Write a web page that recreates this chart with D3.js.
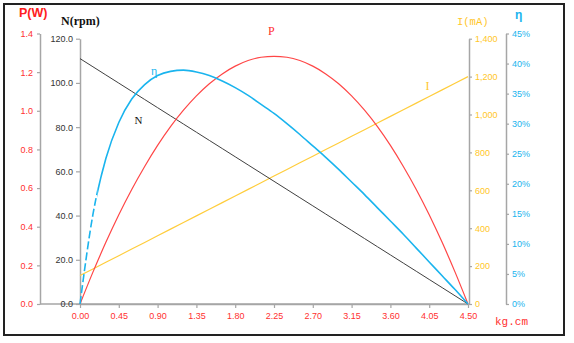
<!DOCTYPE html>
<html>
<head>
<meta charset="utf-8">
<script src="https://cdn.jsdelivr.net/npm/d3@7"></script>
<style>
  html, body { margin: 0; padding: 0; background: #fff; }
  svg { display: block; }
  .tick text { font-family: "Liberation Sans", Arial, sans-serif; font-size: 9px; }
</style>
</head>
<body>
<svg id="chart" width="574" height="343"></svg>
<script>
// ---- data ----
const torque = [0, 0.15, 0.3, 0.45, 0.6, 0.75, 0.9, 1.05, 1.2, 1.35, 1.5, 1.65, 1.8, 1.95, 2.1, 2.25,
  2.4, 2.55, 2.7, 2.85, 3.0, 3.15, 3.3, 3.45, 3.6, 3.75, 3.9, 4.05, 4.2, 4.35, 4.5];
const speed = [111, 107.3, 103.6, 99.9, 96.2, 92.5, 88.8, 85.1, 81.4, 77.7, 74, 70.3, 66.6, 62.9, 59.2, 55.5,
  51.8, 48.1, 44.4, 40.7, 37, 33.3, 29.6, 25.9, 22.2, 18.5, 14.8, 11.1, 7.4, 3.7, 0];
const current = [150, 185, 220, 255, 290, 325, 360, 395, 430, 465, 500, 535, 570, 605, 640, 675,
  710, 745, 780, 815, 850, 885, 920, 955, 990, 1025, 1060, 1095, 1130, 1165, 1200];
const power = [0, 0.165, 0.319, 0.462, 0.593, 0.712, 0.821, 0.918, 1.003, 1.077, 1.140, 1.191, 1.231, 1.260, 1.277, 1.282,
  1.277, 1.260, 1.231, 1.191, 1.140, 1.077, 1.003, 0.918, 0.821, 0.712, 0.593, 0.462, 0.319, 0.165, 0];
const efficiency = [0, 14.9, 24.2, 30.2, 34.1, 36.5, 38.0, 38.7, 38.9, 38.6, 38.0, 37.1, 36.0, 34.7, 33.2, 31.7,
  30.0, 28.2, 26.3, 24.4, 22.4, 20.3, 18.2, 16.0, 13.8, 11.6, 9.3, 7.0, 4.7, 2.4, 0];

const xTicks = [0, 0.45, 0.9, 1.35, 1.8, 2.25, 2.7, 3.15, 3.6, 4.05, 4.5];
const pTicks = [0, 0.2, 0.4, 0.6, 0.8, 1.0, 1.2, 1.4];
const nTicks = [0, 20, 40, 60, 80, 100, 120];
const iTicks = [0, 200, 400, 600, 800, 1000, 1200, 1400];
const effTicks = [0, 5, 10, 15, 20, 25, 30, 35, 40, 45];

// ---- colours ----
const RED = "#ff4646", RED_T = "#ff3030";
const BLUE = "#1ab4ee";
const YEL = "#ffcd3c", YEL_T = "#ffc629";
const BLK = "#404040";
const AX = "#a6a6a6";

const svg = d3.select("#chart");

svg.append("rect").attr("x", 4).attr("y", 4).attr("width", 560).attr("height", 331)
  .attr("fill", "#fff").attr("stroke", "#222").attr("stroke-width", 2);

const x = d3.scaleLinear().domain([0, 4.5]).range([80, 468]);
const yP = d3.scaleLinear().domain([0, 1.4]).range([304, 33.5]);
const yN = d3.scaleLinear().domain([0, 120]).range([304, 38.7]);
const yI = d3.scaleLinear().domain([0, 1400]).range([304, 38.7]);
const yE = d3.scaleLinear().domain([0, 45]).range([304, 33.5]);

function styleAxis(g, color) {
  g.select(".domain").attr("stroke", AX).attr("stroke-width", 1.5);
  g.selectAll(".tick line").attr("stroke", AX).attr("stroke-width", 1.2);
  g.selectAll(".tick text").attr("fill", color);
}

// bottom baseline extending to the P axis
svg.append("line").attr("x1", 40).attr("x2", 468).attr("y1", 304).attr("y2", 304)
  .attr("stroke", AX).attr("stroke-width", 1.5);

const gx = svg.append("g").attr("transform", "translate(0,304)")
  .call(d3.axisBottom(x).tickValues(xTicks).tickFormat(d3.format(".2f")).tickSize(4).tickPadding(5).tickSizeOuter(0));
styleAxis(gx, RED_T);

const gP = svg.append("g").attr("transform", "translate(40,0)")
  .call(d3.axisLeft(yP).tickValues(pTicks).tickFormat(d3.format(".1f")).tickSize(3).tickPadding(4).tickSizeOuter(0));
styleAxis(gP, RED_T);

const gN = svg.append("g").attr("transform", "translate(80,0)")
  .call(d3.axisLeft(yN).tickValues(nTicks).tickFormat(d3.format(".1f")).tickSize(4).tickPadding(3).tickSizeOuter(0));
styleAxis(gN, "#333");

const gI = svg.append("g").attr("transform", "translate(469,0)")
  .call(d3.axisRight(yI).tickValues(iTicks).tickFormat(d3.format(",")).tickSize(3).tickPadding(3).tickSizeOuter(0));
styleAxis(gI, YEL_T);

const gE = svg.append("g").attr("transform", "translate(506,0)")
  .call(d3.axisRight(yE).tickValues(effTicks).tickFormat(d => d + "%").tickSize(3).tickPadding(3).tickSizeOuter(0));
styleAxis(gE, BLUE);

// ---- lines ----
const idx = d3.range(torque.length);
function line(yScale, arr, curve) {
  return d3.line().x(i => x(torque[i])).y(i => yScale(arr[i])).curve(curve || d3.curveMonotoneX)(idx);
}

svg.append("path").attr("d", line(yI, current, d3.curveLinear))
  .attr("fill", "none").attr("stroke", YEL).attr("stroke-width", 1.2);
svg.append("path").attr("d", line(yN, speed, d3.curveLinear))
  .attr("fill", "none").attr("stroke", BLK).attr("stroke-width", 1);
svg.append("path").attr("d", line(yP, power))
  .attr("fill", "none").attr("stroke", RED).attr("stroke-width", 1.2);

// efficiency: dashed near origin, solid afterwards
const splitX = x(0.2);
const defs = svg.append("defs");
defs.append("clipPath").attr("id", "clipL").append("rect")
  .attr("x", 0).attr("y", 0).attr("width", splitX).attr("height", 343);
defs.append("clipPath").attr("id", "clipR").append("rect")
  .attr("x", splitX).attr("y", 0).attr("width", 574 - splitX).attr("height", 343);
const effD = line(yE, efficiency);
svg.append("path").attr("d", effD).attr("clip-path", "url(#clipL)")
  .attr("fill", "none").attr("stroke", BLUE).attr("stroke-width", 1.6)
  .attr("stroke-dasharray", "8,3");
svg.append("path").attr("d", effD).attr("clip-path", "url(#clipR)")
  .attr("fill", "none").attr("stroke", BLUE).attr("stroke-width", 1.6);

// ---- titles ----
svg.append("text").attr("x", 19).attr("y", 17).text("P(W)")
  .attr("fill", "#ff2020").attr("font-family", "Liberation Sans, Arial, sans-serif")
  .attr("font-size", 12.5).attr("font-weight", "bold");
svg.append("text").attr("x", 61).attr("y", 25).text("N(rpm)")
  .attr("fill", "#111").attr("font-family", "Liberation Serif, serif")
  .attr("font-size", 12).attr("font-weight", "bold");
svg.append("text").attr("x", 457).attr("y", 25).text("I(mA)")
  .attr("fill", YEL_T).attr("font-family", "Liberation Mono, monospace")
  .attr("font-size", 10.5);
svg.append("text").attr("x", 515).attr("y", 19).text("η")
  .attr("fill", BLUE).attr("font-family", "Liberation Sans, Arial, sans-serif")
  .attr("font-size", 12).attr("font-weight", "bold");
svg.append("text").attr("x", 495).attr("y", 325).text("kg.cm")
  .attr("fill", RED_T).attr("font-family", "Liberation Mono, monospace")
  .attr("font-size", 11);

// curve labels
const serif = "Liberation Serif, serif";
svg.append("text").attr("x", 268).attr("y", 35).text("P")
  .attr("fill", RED_T).attr("font-family", serif).attr("font-size", 12);
svg.append("text").attr("x", 151).attr("y", 75).text("η")
  .attr("fill", BLUE).attr("font-family", serif).attr("font-size", 12);
svg.append("text").attr("x", 134.5).attr("y", 123.5).text("N")
  .attr("fill", "#111").attr("font-family", serif).attr("font-size", 11);
svg.append("text").attr("x", 425.5).attr("y", 89.5).text("I")
  .attr("fill", YEL_T).attr("font-family", serif).attr("font-size", 12);
</script>
</body>
</html>
